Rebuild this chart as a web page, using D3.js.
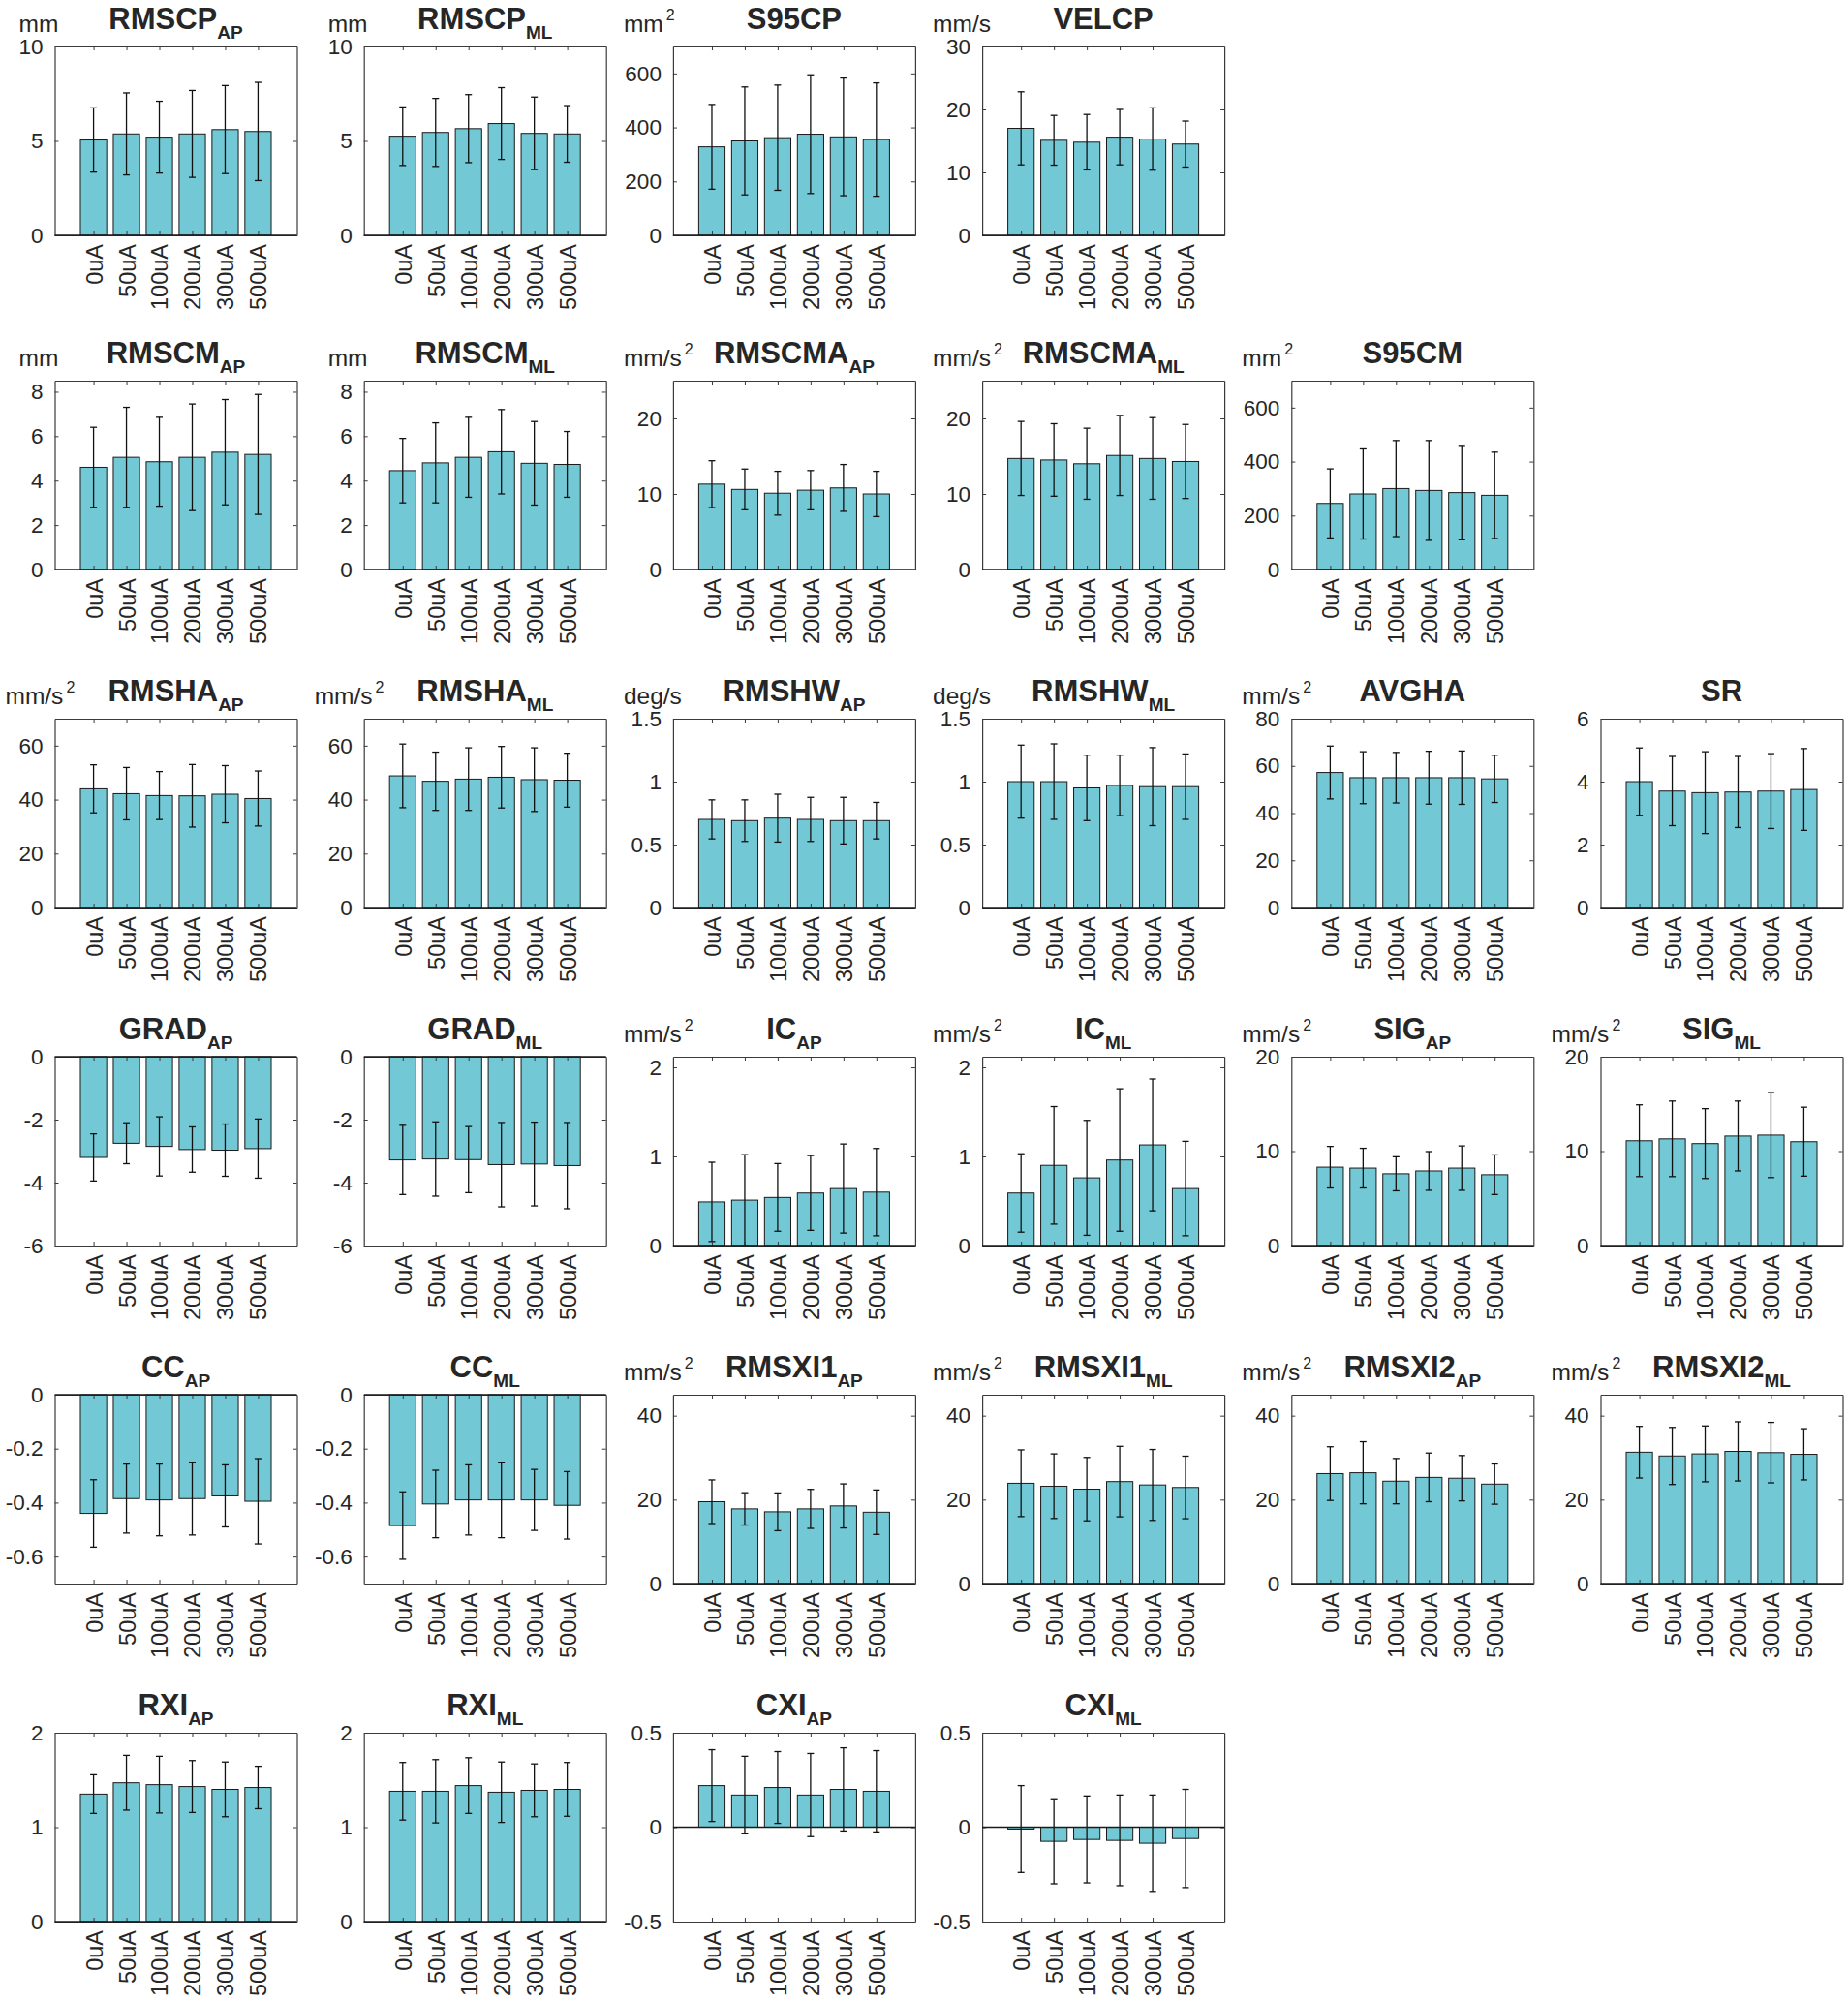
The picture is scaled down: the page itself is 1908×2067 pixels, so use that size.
<!DOCTYPE html>
<html>
<head>
<meta charset="utf-8">
<script src="https://cdn.jsdelivr.net/npm/d3@7"></script>
<style>
  body { margin: 0; background: #fff; }
  svg text { font-family: "Liberation Sans", Arial, Helvetica, sans-serif; fill: #262626; }
</style>
</head>
<body>
<svg id="chart" width="1908" height="2067"></svg>
<script>
// categories (stimulus current)
const categories = ["0uA", "50uA", "100uA", "200uA", "300uA", "500uA"];

// panel titles, subscripts and units, in reading order
const panelNames = ["RMSCP","RMSCP","S95CP","VELCP",
  "RMSCM","RMSCM","RMSCMA","RMSCMA","S95CM",
  "RMSHA","RMSHA","RMSHW","RMSHW","AVGHA","SR",
  "GRAD","GRAD","IC","IC","SIG","SIG",
  "CC","CC","RMSXI1","RMSXI1","RMSXI2","RMSXI2",
  "RXI","RXI","CXI","CXI"];
const panelSubs = ["AP","ML","","",
  "AP","ML","AP","ML","",
  "AP","ML","AP","ML","","",
  "AP","ML","AP","ML","AP","ML",
  "AP","ML","AP","ML","AP","ML",
  "AP","ML","AP","ML"];
// "^2" -> superscript 2
const panelUnits = ["mm","mm","mm^2","mm/s",
  "mm","mm","mm/s^2","mm/s^2","mm^2",
  "mm/s^2","mm/s^2","deg/s","deg/s","mm/s^2","",
  "","","mm/s^2","mm/s^2","mm/s^2","mm/s^2",
  "","","mm/s^2","mm/s^2","mm/s^2","mm/s^2",
  "","","",""];

// y ranges and ticks
const yDomains = [[0,10],[0,10],[0,700],[0,30],
  [0,8.5],[0,8.5],[0,25],[0,25],[0,700],
  [0,70],[0,70],[0,1.5],[0,1.5],[0,80],[0,6],
  [-6,0],[-6,0],[0,2.12],[0,2.12],[0,20],[0,20],
  [-0.7,0],[-0.7,0],[0,45],[0,45],[0,45],[0,45],
  [0,2],[0,2],[-0.5,0.5],[-0.5,0.5]];
const yTicks = [[0,5,10],[0,5,10],[0,200,400,600],[0,10,20,30],
  [0,2,4,6,8],[0,2,4,6,8],[0,10,20],[0,10,20],[0,200,400,600],
  [0,20,40,60],[0,20,40,60],[0,0.5,1,1.5],[0,0.5,1,1.5],[0,20,40,60,80],[0,2,4,6],
  [-6,-4,-2,0],[-6,-4,-2,0],[0,1,2],[0,1,2],[0,10,20],[0,10,20],
  [-0.6,-0.4,-0.2,0],[-0.6,-0.4,-0.2,0],[0,20,40],[0,20,40],[0,20,40],[0,20,40],
  [0,1,2],[0,1,2],[-0.5,0,0.5],[-0.5,0,0.5]];

// bar heights (mean) and error bars (SD)
const means = [
  [5.05,5.37,5.2,5.37,5.6,5.5],
  [5.25,5.45,5.65,5.92,5.4,5.37],
  [328,350,362,375,365,355],
  [17.0,15.1,14.8,15.6,15.3,14.5],
  [4.6,5.05,4.85,5.05,5.28,5.18],
  [4.45,4.8,5.05,5.3,4.78,4.73],
  [11.3,10.6,10.1,10.5,10.8,10.0],
  [14.7,14.5,14.0,15.1,14.7,14.3],
  [245,280,300,293,285,275],
  [44,42.2,41.5,41.4,42,40.4],
  [48.8,46.8,47.6,48.3,47.4,47.2],
  [0.70,0.69,0.71,0.70,0.69,0.69],
  [1.0,1.0,0.95,0.97,0.96,0.96],
  [57.2,55,55,55,55,54.5],
  [4.0,3.7,3.65,3.67,3.7,3.75],
  [-3.2,-2.75,-2.85,-2.95,-2.97,-2.92],
  [-3.28,-3.25,-3.27,-3.43,-3.41,-3.46],
  [0.49,0.51,0.54,0.59,0.64,0.60],
  [0.59,0.90,0.76,0.96,1.13,0.64],
  [8.3,8.2,7.6,7.9,8.2,7.5],
  [11.1,11.3,10.8,11.6,11.7,11.0],
  [-0.44,-0.385,-0.39,-0.385,-0.375,-0.395],
  [-0.485,-0.405,-0.39,-0.39,-0.39,-0.41],
  [19.5,17.8,17.1,17.8,18.5,17.0],
  [23.9,23.2,22.5,24.3,23.5,22.9],
  [26.2,26.4,24.4,25.3,25.1,23.7],
  [31.3,30.4,30.9,31.5,31.2,30.8],
  [1.35,1.47,1.45,1.43,1.40,1.42],
  [1.38,1.38,1.44,1.37,1.39,1.40],
  [0.22,0.17,0.21,0.17,0.20,0.19],
  [-0.01,-0.075,-0.065,-0.07,-0.085,-0.06]
];
const sds = [
  [1.7,2.17,1.9,2.3,2.33,2.6],
  [1.55,1.8,1.8,1.9,1.92,1.5],
  [157,200,195,220,218,210],
  [5.8,3.95,4.4,4.4,4.95,3.65],
  [1.8,2.25,2.0,2.4,2.37,2.7],
  [1.45,1.8,1.8,1.9,1.88,1.48],
  [3.1,2.7,2.9,2.6,3.1,3.0],
  [4.9,4.8,4.7,5.3,5.4,4.9],
  [128,167,178,185,175,160],
  [8.9,9.7,8.9,11.6,10.6,10.2],
  [11.8,10.8,11.6,11.4,11.8,10],
  [0.155,0.165,0.19,0.175,0.185,0.145],
  [0.29,0.30,0.26,0.24,0.31,0.26],
  [11.2,11,10.7,11.2,11.3,10],
  [1.07,1.1,1.3,1.13,1.19,1.3],
  [0.75,0.65,0.94,0.72,0.83,0.94],
  [1.1,1.18,1.05,1.34,1.33,1.37],
  [0.445,0.51,0.38,0.42,0.5,0.49],
  [0.44,0.66,0.645,0.8,0.74,0.53],
  [2.2,2.1,1.8,2.05,2.35,2.1],
  [3.8,4.0,3.7,3.7,4.5,3.65],
  [0.125,0.128,0.133,0.135,0.115,0.158],
  [0.125,0.125,0.13,0.14,0.113,0.125],
  [5.2,3.85,4.5,4.65,5.25,5.3],
  [7.95,7.7,7.55,8.4,8.45,7.45],
  [6.4,7.4,5.4,5.8,5.4,4.8],
  [6.15,6.8,6.65,7.05,7.2,6.1],
  [0.205,0.29,0.3,0.275,0.29,0.225],
  [0.305,0.335,0.295,0.32,0.28,0.285],
  [0.19,0.205,0.19,0.22,0.22,0.215],
  [0.23,0.225,0.23,0.24,0.255,0.26]
];

// ---- layout ----
const rowCounts = [4, 5, 6, 6, 6, 4];
const rowTops   = [48, 393, 742, 1091, 1440, 1789];
const colLeft0 = 56.5, colStep = 319.2;
const W = 250, H = 195;
const barColor = "#72c8d4";

const svg = d3.select("#chart");

// panel index -> grid slot
const slots = [];
rowCounts.forEach((n, r) => { for (let c = 0; c < n; c++) slots.push({ r, c }); });

slots.forEach((s, i) => {
  const left = colLeft0 + colStep * s.c, top = rowTops[s.r];
  const g = svg.append("g").attr("transform", `translate(${left},${top})`);

  const x = d3.scaleLinear().domain([-1.18, 6.18]).range([0, W]);
  const y = d3.scaleLinear().domain(yDomains[i]).range([H, 0]);
  const bw = (x(1) - x(0)) * 0.8;
  const rows = categories.map((c, k) => ({ k, c, m: means[i][k], s: sds[i][k] }));

  // bars
  g.selectAll("rect.bar").data(rows).join("rect")
    .attr("class", "bar")
    .attr("x", d => x(d.k) - bw / 2)
    .attr("width", bw)
    .attr("y", d => y(Math.max(0, d.m)))
    .attr("height", d => Math.abs(y(d.m) - y(0)))
    .attr("fill", barColor)
    .attr("stroke", "#1a1a1a")
    .attr("stroke-width", 1);

  // error bars
  const eb = g.selectAll("g.eb").data(rows).join("g").attr("class", "eb")
    .attr("stroke", "#111").attr("stroke-width", 1.3);
  eb.append("line")
    .attr("x1", d => x(d.k)).attr("x2", d => x(d.k))
    .attr("y1", d => y(d.m - d.s)).attr("y2", d => y(d.m + d.s));
  [-1, 1].forEach(sgn => {
    eb.append("line")
      .attr("x1", d => x(d.k) - 3.5).attr("x2", d => x(d.k) + 3.5)
      .attr("y1", d => y(d.m + sgn * d.s)).attr("y2", d => y(d.m + sgn * d.s));
  });

  // box + inward ticks on all four sides
  const tickFmt = d => String(d);
  const yl = g.append("g").call(d3.axisLeft(y).tickValues(yTicks[i]).tickFormat(tickFmt)
    .tickSizeInner(-4).tickSizeOuter(0).tickPadding(12));
  const yr = g.append("g").attr("transform", `translate(${W},0)`)
    .call(d3.axisRight(y).tickValues(yTicks[i]).tickFormat("").tickSizeInner(-4).tickSizeOuter(0));
  const xb = g.append("g").attr("transform", `translate(0,${H})`)
    .call(d3.axisBottom(x).tickValues(d3.range(6)).tickFormat(k => categories[k])
      .tickSizeInner(-4).tickSizeOuter(0));
  const xt = g.append("g")
    .call(d3.axisTop(x).tickValues(d3.range(6)).tickFormat("").tickSizeInner(-4).tickSizeOuter(0));
  [yl, yr, xb, xt].forEach(a => {
    a.select(".domain").attr("stroke", "#3a3a3a").attr("stroke-width", 1.2);
    a.selectAll(".tick line").attr("stroke", "#3a3a3a").attr("stroke-width", 1);
  });
  yl.selectAll("text").attr("font-size", 22.5).attr("fill", "#262626");
  xb.selectAll("text")
    .attr("font-size", 23.5).attr("fill", "#262626")
    .attr("transform", "rotate(-90)")
    .attr("text-anchor", "end")
    .attr("x", -9).attr("y", 0).attr("dy", "0.36em");

  // bar baseline at 0
  g.append("line")
    .attr("x1", 0).attr("x2", W)
    .attr("y1", y(0)).attr("y2", y(0))
    .attr("stroke", "#1a1a1a").attr("stroke-width", 1.6);

  // title with subscript
  const t = g.append("text")
    .attr("x", W / 2).attr("y", -18)
    .attr("text-anchor", "middle")
    .attr("font-weight", "bold").attr("font-size", 31).attr("fill", "#111");
  t.append("tspan").text(panelNames[i]);
  if (panelSubs[i]) t.append("tspan").attr("font-size", 19).attr("dy", 10).text(panelSubs[i]);

  // unit label, top-left
  const u = panelUnits[i];
  if (u) {
    const parts = u.split("^");
    const ut = g.append("text")
      .attr("x", u === "mm" ? -37 : -51).attr("y", -15)
      .attr("font-size", 24.5).attr("fill", "#262626");
    ut.append("tspan").text(parts[0]);
    if (parts[1]) ut.append("tspan").attr("font-size", 16).attr("dx", 3).attr("dy", -12).text(parts[1]);
  }
});
</script>
</body>
</html>
